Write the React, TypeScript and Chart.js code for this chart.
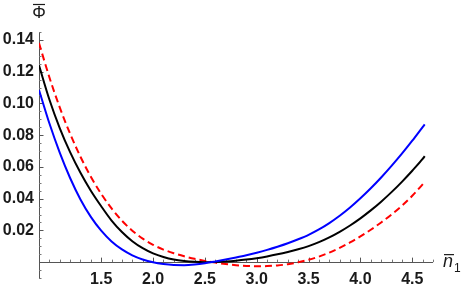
import React, { useEffect, useRef } from "react";
import { Chart, registerables } from "chart.js";
Chart.register(...registerables);

const xValues = [0.9, 1.0, 1.1, 1.2, 1.3, 1.4, 1.5, 1.6, 1.7, 1.8, 1.9, 2.0, 2.1, 2.2, 2.3, 2.4, 2.5, 2.6, 2.7, 2.8, 2.9, 3.0, 3.1, 3.2, 3.3, 3.4, 3.5, 3.6, 3.7, 3.8, 3.9, 4.0, 4.1, 4.2, 4.3, 4.4, 4.5, 4.6, 4.62];
const blueSeries = [0.1085, 0.0875, 0.069, 0.053, 0.0395, 0.0285, 0.0198, 0.013, 0.008, 0.0043, 0.0017, -0.0001, -0.0012, -0.0018, -0.0019, -0.0015, -0.0007, 0.0004, 0.0016, 0.0029, 0.0043, 0.0059, 0.0077, 0.0097, 0.0119, 0.0144, 0.0172, 0.0206, 0.0246, 0.0292, 0.0344, 0.0402, 0.0465, 0.0533, 0.0606, 0.0683, 0.0765, 0.0851, 0.0868];
const blackSeries = [0.124, 0.1025, 0.0845, 0.0693, 0.0563, 0.045, 0.0352, 0.0262, 0.019, 0.0132, 0.0088, 0.0055, 0.0032, 0.0016, 0.0007, 0.0002, 0.0, 0.0001, 0.0004, 0.0009, 0.0016, 0.0025, 0.0036, 0.0049, 0.0064, 0.0081, 0.0101, 0.0126, 0.0156, 0.0191, 0.0231, 0.0276, 0.0326, 0.0381, 0.0441, 0.0506, 0.0576, 0.065, 0.0668];
const redSeries = [0.138, 0.1165, 0.0975, 0.0809, 0.0664, 0.0538, 0.043, 0.0338, 0.0261, 0.0198, 0.0148, 0.0109, 0.0079, 0.0056, 0.0037, 0.0021, 0.0008, -0.0003, -0.0012, -0.0019, -0.0024, -0.0026, -0.0025, -0.0021, -0.0013, -0.0001, 0.0015, 0.0035, 0.006, 0.009, 0.0124, 0.0162, 0.0204, 0.025, 0.03, 0.0355, 0.0418, 0.049, 0.0505];

const xTickLabels = ["1.5", "2.0", "2.5", "3.0", "3.5", "4.0", "4.5"];
const yTickLabels = ["0.02", "0.04", "0.06", "0.08", "0.10", "0.12", "0.14"];
const xMinorTicks = [1.0, 1.1, 1.2, 1.3, 1.4, 1.6, 1.7, 1.8, 1.9, 2.1, 2.2, 2.3, 2.4, 2.6, 2.7, 2.8, 2.9, 3.1, 3.2, 3.3, 3.4, 3.6, 3.7, 3.8, 3.9, 4.1, 4.2, 4.3, 4.4, 4.6, 4.7];
const yMinorTicks = [-0.01, -0.005, 0.005, 0.01, 0.015, 0.025, 0.03, 0.035, 0.045, 0.05, 0.055, 0.065, 0.07, 0.075, 0.085, 0.09, 0.095, 0.105, 0.11, 0.115, 0.125, 0.13, 0.135, 0.145];

const xMin = 0.9;
const xMax = 4.7;
const yMin = -0.01;
const yMax = 0.145;

const axesPlugin = {
  id: "mathAxes",
  beforeDatasetsDraw(chart: any) {
    const { ctx, chartArea, scales } = chart;
    const xs = scales.x;
    const ys = scales.y;
    const x0 = xs.getPixelForValue(xMin);
    const y0 = ys.getPixelForValue(0);
    ctx.save();
    ctx.strokeStyle = "#555";
    ctx.lineWidth = 1;
    ctx.beginPath();
    ctx.moveTo(chartArea.left, Math.round(y0) + 0.5);
    ctx.lineTo(chartArea.right, Math.round(y0) + 0.5);
    ctx.moveTo(Math.round(x0) + 0.5, chartArea.bottom);
    ctx.lineTo(Math.round(x0) + 0.5, chartArea.top);
    ctx.stroke();
    ctx.strokeStyle = "#777";
    ctx.beginPath();
    for (const t of xMinorTicks) {
      const px = Math.round(xs.getPixelForValue(t)) + 0.5;
      ctx.moveTo(px, y0);
      ctx.lineTo(px, y0 - 2.5);
    }
    for (const t of yMinorTicks) {
      const py = Math.round(ys.getPixelForValue(t)) + 0.5;
      ctx.moveTo(x0, py);
      ctx.lineTo(x0 + 2.5, py);
    }
    ctx.stroke();
    ctx.strokeStyle = "#555";
    ctx.beginPath();
    for (const l of xTickLabels) {
      const px = Math.round(xs.getPixelForValue(parseFloat(l))) + 0.5;
      ctx.moveTo(px, y0);
      ctx.lineTo(px, y0 - 4.5);
    }
    for (const l of yTickLabels) {
      const py = Math.round(ys.getPixelForValue(parseFloat(l))) + 0.5;
      ctx.moveTo(x0, py);
      ctx.lineTo(x0 + 4.5, py);
    }
    ctx.stroke();
    ctx.restore();
  },
  afterDraw(chart: any) {
    const { ctx, chartArea, scales } = chart;
    const xs = scales.x;
    const ys = scales.y;
    const x0 = xs.getPixelForValue(xMin);
    const y0 = ys.getPixelForValue(0);
    ctx.save();
    ctx.fillStyle = "#1a1a1a";
    ctx.font = "bold 16px 'Liberation Sans', Arial, sans-serif";
    ctx.textAlign = "center";
    ctx.textBaseline = "middle";
    for (const l of xTickLabels) {
      ctx.fillText(l, xs.getPixelForValue(parseFloat(l)), y0 + 17);
    }
    ctx.textAlign = "right";
    for (const l of yTickLabels) {
      ctx.fillText(l, x0 - 5, ys.getPixelForValue(parseFloat(l)));
    }
    // y axis label
    ctx.font = "17px 'Liberation Sans', Arial, sans-serif";
    ctx.textAlign = "center";
    ctx.textBaseline = "alphabetic";
    ctx.fillText("Φ", x0, 18);
    ctx.strokeStyle = "#1a1a1a";
    ctx.lineWidth = 1.2;
    ctx.beginPath();
    ctx.moveTo(x0 - 6, 4.5);
    ctx.lineTo(x0 + 6, 4.5);
    ctx.stroke();
    // x axis label
    const lx = chartArea.right + 10;
    ctx.font = "italic 18px 'Liberation Sans', Arial, sans-serif";
    ctx.textAlign = "left";
    ctx.fillText("n", lx, y0 + 5);
    ctx.beginPath();
    ctx.moveTo(lx + 1, y0 - 7.5);
    ctx.lineTo(lx + 11, y0 - 7.5);
    ctx.stroke();
    ctx.font = "12px 'Liberation Sans', Arial, sans-serif";
    ctx.fillText("1", lx + 11, y0 + 10);
    ctx.restore();
  },
};

export default function App() {
  const ref = useRef<HTMLCanvasElement | null>(null);
  useEffect(() => {
    if (!ref.current) return;
    const mk = (ys: number[]) => xValues.map((x, i) => ({ x, y: ys[i] }));
    const chart = new Chart(ref.current, {
      type: "line",
      data: {
        datasets: [
          { data: mk(blueSeries), borderColor: "#0000ff", borderWidth: 2, pointRadius: 0, cubicInterpolationMode: "monotone", fill: false },
          { data: mk(blackSeries), borderColor: "#000000", borderWidth: 2, pointRadius: 0, cubicInterpolationMode: "monotone", fill: false },
          { data: mk(redSeries), borderColor: "#ff0000", borderWidth: 2, borderDash: [7, 4], pointRadius: 0, cubicInterpolationMode: "monotone", fill: false },
        ],
      },
      options: {
        animation: false,
        responsive: false,
        events: [],
        layout: { padding: { left: 39, right: 30, top: 32, bottom: 12 } },
        plugins: { legend: { display: false }, tooltip: { enabled: false } },
        scales: {
          x: { type: "linear", display: false, min: xMin, max: xMax },
          y: { type: "linear", display: false, min: yMin, max: yMax },
        },
      },
      plugins: [axesPlugin],
    } as any);
    return () => chart.destroy();
  }, []);
  return (
    <div style={{ position: "fixed", left: 0, top: 0, width: 463, height: 290, background: "#fff" }}>
      <canvas ref={ref} width={463} height={290} style={{ width: 463, height: 290, display: "block" }} />
    </div>
  );
}
